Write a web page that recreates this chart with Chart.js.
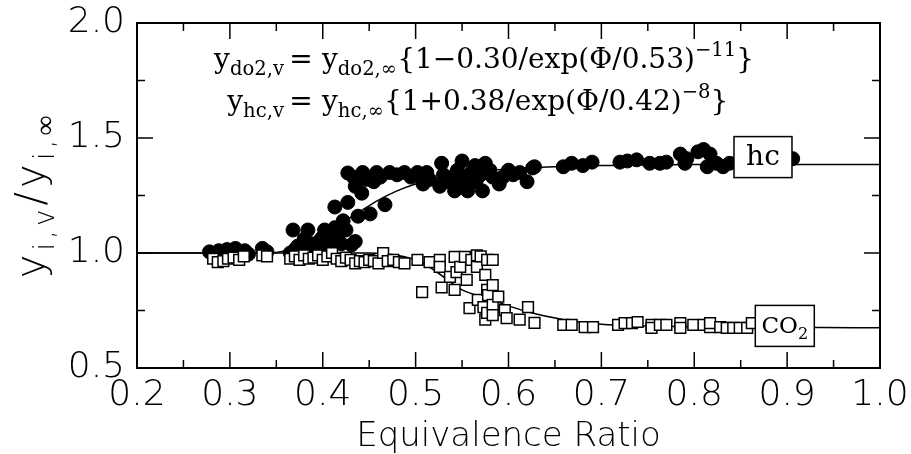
<!DOCTYPE html>
<html>
<head>
<meta charset="utf-8">
<script src="https://cdn.jsdelivr.net/npm/chart.js@4"></script>
<style>
  html, body { margin: 0; background: #fff; }
  #wrap { width: 911px; height: 454px; }
</style>
</head>
<body>
<div id="wrap"><canvas id="chart" width="911" height="454"></canvas></div>
<script>
// tick values
const xTicks = [0.2, 0.3, 0.4, 0.5, 0.6, 0.7, 0.8, 0.9, 1.0]
const yTicks = [0.5, 1.0, 1.5, 2.0]

// hc measurements (filled circles)
const hcPhi = [0.278, 0.283, 0.288, 0.292, 0.297, 0.302, 0.306, 0.311, 0.316, 0.32, 0.335, 0.34,
  0.365, 0.37, 0.368, 0.373, 0.378, 0.38, 0.384, 0.388, 0.392, 0.395, 0.396, 0.399, 0.402, 0.405, 0.408,
  0.41, 0.413, 0.413, 0.416, 0.42, 0.422, 0.425, 0.427, 0.427, 0.431, 0.433, 0.435, 0.435, 0.438, 0.442,
  0.443, 0.447, 0.451, 0.455, 0.458, 0.462, 0.467, 0.472, 0.48, 0.488, 0.495, 0.502, 0.508, 0.512, 0.515,
  0.526, 0.528, 0.53, 0.535, 0.54, 0.542, 0.545, 0.55, 0.55, 0.555, 0.556, 0.56, 0.564, 0.565, 0.57,
  0.572, 0.575, 0.58, 0.583, 0.59, 0.594, 0.6, 0.605, 0.612, 0.62, 0.626, 0.628, 0.659, 0.668, 0.68,
  0.69, 0.72, 0.728, 0.738, 0.752, 0.763, 0.77, 0.785, 0.79, 0.792, 0.804, 0.81, 0.817, 0.814, 0.824,
  0.831, 0.838, 0.906]
const hcRatio = [1.005, 0.995, 1.01, 0.99, 1.015, 1.005, 1.02, 1.0, 1.01, 0.995, 1.02, 1.005,
  1.0, 1.015, 1.10, 1.03, 1.005, 1.06, 1.10, 1.04, 1.02, 1.0, 1.05, 1.065, 1.10, 1.03, 1.08,
  1.04, 1.11, 1.20, 1.065, 1.04, 1.14, 1.10, 1.22, 1.348, 1.035, 1.33, 1.29, 1.05, 1.16, 1.26,
  1.35, 1.32, 1.17, 1.31, 1.35, 1.33, 1.21, 1.35, 1.34, 1.35, 1.33, 1.35, 1.30, 1.35, 1.32,
  1.29, 1.39, 1.34, 1.31, 1.33, 1.27, 1.36, 1.40, 1.30, 1.33, 1.27, 1.35, 1.38, 1.31, 1.34,
  1.27, 1.39, 1.36, 1.33, 1.30, 1.33, 1.36, 1.34, 1.35, 1.31, 1.37, 1.375, 1.375, 1.39, 1.38,
  1.395, 1.395, 1.40, 1.405, 1.39, 1.39, 1.395, 1.43, 1.39, 1.41, 1.44, 1.45, 1.43, 1.375, 1.39,
  1.375, 1.39, 1.41]

// CO2 measurements (open squares)
const co2Phi = [0.282, 0.287, 0.293, 0.298, 0.304, 0.31, 0.315, 0.335, 0.34, 0.365, 0.37, 0.375, 0.38,
  0.385, 0.39, 0.395, 0.40, 0.405, 0.41, 0.415, 0.42, 0.425, 0.43, 0.435, 0.44, 0.445, 0.45, 0.455,
  0.46, 0.465, 0.47, 0.476, 0.482, 0.488, 0.502, 0.507, 0.515, 0.526, 0.526, 0.528, 0.537, 0.542,
  0.542, 0.544, 0.548, 0.553, 0.555, 0.558, 0.56, 0.566, 0.566, 0.567, 0.57, 0.573, 0.575, 0.575,
  0.577, 0.577, 0.577, 0.578, 0.583, 0.583, 0.583, 0.583, 0.589, 0.596, 0.598, 0.612, 0.621, 0.628,
  0.659, 0.668, 0.682, 0.691, 0.718, 0.725, 0.733, 0.739, 0.754, 0.754, 0.763, 0.77, 0.785, 0.785,
  0.799, 0.81, 0.817, 0.817, 0.828, 0.835, 0.842, 0.849, 0.857, 0.862]
const co2Ratio = [0.975, 0.96, 0.965, 0.975, 0.98, 0.97, 0.985, 0.99, 0.985, 0.975, 0.985, 0.97, 0.99,
  0.975, 0.98, 0.99, 0.97, 0.985, 1.0, 0.975, 0.965, 0.98, 0.97, 0.955, 0.965, 0.96, 0.97, 0.965,
  0.955, 1.0, 0.965, 0.97, 0.96, 0.955, 0.97, 0.83, 0.96, 0.97, 0.94, 0.85, 0.896, 0.983,
  0.84, 0.917, 0.94, 0.983, 0.883, 0.76, 0.97, 0.99, 0.94, 0.796, 0.985, 0.765, 0.905, 0.71,
  0.97, 0.84, 0.74, 0.817, 0.97, 0.86, 0.774, 0.73, 0.81, 0.752, 0.717, 0.71, 0.765, 0.696,
  0.687, 0.687, 0.678, 0.678, 0.687, 0.695, 0.695, 0.70, 0.687, 0.674, 0.687, 0.687, 0.695, 0.674,
  0.687, 0.687, 0.678, 0.695, 0.678, 0.674, 0.674, 0.674, 0.674, 0.695]

// fitted curves
const hcFitPhi = [0.2, 0.34, 0.36, 0.38, 0.40, 0.42, 0.44, 0.46, 0.48, 0.50, 0.53, 0.56, 0.60, 0.65, 0.70, 0.80, 0.90, 1.0]
const hcFitRatio = [1.0, 1.0, 1.01, 1.04, 1.08, 1.13, 1.18, 1.23, 1.27, 1.30, 1.33, 1.35, 1.365, 1.375, 1.38, 1.385, 1.385, 1.385]
const co2FitPhi = [0.2, 0.45, 0.50, 0.52, 0.55, 0.58, 0.60, 0.62, 0.66, 0.70, 0.75, 0.80, 0.90, 1.0]
const co2FitRatio = [1.0, 1.0, 0.97, 0.925, 0.84, 0.80, 0.77, 0.745, 0.71, 0.69, 0.683, 0.68, 0.677, 0.675]

const pts = (xs, ys) => xs.map((x, i) => ({ x: x, y: ys[i] }))

const sans = 'DejaVu Sans'
const serif = 'DejaVu Serif'

// draw text made of runs: [text, 'n' | 'sub' | 'sup']
function richWidth(ctx, runs, family, size, weight) {
  let w = 0
  runs.forEach(r => {
    const s = r[1] === 'n' ? size : size * 0.7
    ctx.font = (weight || '400') + ' ' + s + 'px "' + family + '"'
    w += ctx.measureText(r[0]).width
  })
  return w
}
function drawRich(ctx, runs, x, y, family, size, weight) {
  ctx.textAlign = 'left'
  ctx.textBaseline = 'alphabetic'
  runs.forEach(r => {
    let s = size, dy = 0
    if (r[1] === 'sub') { s = size * 0.7; dy = size * 0.25 }
    if (r[1] === 'sup') { s = size * 0.7; dy = -size * 0.42 }
    ctx.font = (weight || '400') + ' ' + s + 'px "' + family + '"'
    ctx.fillText(r[0], x, y + dy)
    x += ctx.measureText(r[0]).width
  })
  return x
}

const decor = {
  id: 'decor',
  afterDatasetsDraw(chart) {
    const ctx = chart.ctx
    const a = chart.chartArea
    const xs = chart.scales.x, ys = chart.scales.y
    ctx.save()
    ctx.fillStyle = '#000'
    ctx.strokeStyle = '#000'

    // frame
    ctx.lineWidth = 2
    ctx.strokeRect(a.left, a.top, a.right - a.left, a.bottom - a.top)

    // inward ticks
    ctx.lineWidth = 1.5
    ctx.beginPath()
    for (let i = 1; i < 16; i++) {
      const v = 0.2 + i * 0.05
      const px = xs.getPixelForValue(v)
      const len = i % 2 === 0 ? 16 : 8
      ctx.moveTo(px, a.bottom); ctx.lineTo(px, a.bottom - len)
      ctx.moveTo(px, a.top); ctx.lineTo(px, a.top + len)
    }
    for (let i = 1; i < 6; i++) {
      const v = 0.5 + i * 0.25
      const py = ys.getPixelForValue(v)
      const len = i % 2 === 0 ? 16 : 8
      ctx.moveTo(a.left, py); ctx.lineTo(a.left + len, py)
      ctx.moveTo(a.right, py); ctx.lineTo(a.right - len, py)
    }
    ctx.stroke()

    // equations
    const eqSize = 28
    const eqs = [
      { y: 68, left: [['y', 'n'], ['do2,v', 'sub']],
        right: [['y', 'n'], ['do2,\u221e', 'sub'], ['{1\u22120.30/exp(\u03a6/0.53)', 'n'], ['\u221211', 'sup'], ['}', 'n']] },
      { y: 110, left: [['y', 'n'], ['hc,v', 'sub']],
        right: [['y', 'n'], ['hc,\u221e', 'sub'], ['{1+0.38/exp(\u03a6/0.42)', 'n'], ['\u22128', 'sup'], ['}', 'n']] }
    ]
    eqs.forEach(e => {
      const lw = richWidth(ctx, e.left, serif, eqSize)
      drawRich(ctx, e.left, 284 - lw, e.y, serif, eqSize)
      ctx.font = eqSize + 'px "' + serif + '"'
      ctx.textAlign = 'center'
      ctx.fillText('=', 301, e.y)
      drawRich(ctx, e.right, 322, e.y, serif, eqSize)
    })

    // curve labels
    const boxes = [
      { x: 0.874, y: 1.417, w: 58, h: 41, runs: [['hc', 'n']], size: 28 },
      { x: 0.8975, y: 0.683, w: 59, h: 41, runs: [['CO', 'n'], ['2', 'sub']], size: 23 }
    ]
    boxes.forEach(b => {
      const cx = xs.getPixelForValue(b.x), cy = ys.getPixelForValue(b.y)
      ctx.fillStyle = '#fff'
      ctx.fillRect(cx - b.w / 2, cy - b.h / 2, b.w, b.h)
      ctx.lineWidth = 1.5
      ctx.strokeRect(cx - b.w / 2, cy - b.h / 2, b.w, b.h)
      ctx.fillStyle = '#000'
      const tw = richWidth(ctx, b.runs, serif, b.size)
      drawRich(ctx, b.runs, cx - tw / 2, cy + b.size * 0.3, serif, b.size)
    })

    // y axis title, rotated
    const yt = [['y', 'n'], ['i,v', 'sub'], ['/', 'n'], ['y', 'n'], ['i,\u221e', 'sub']]
    ctx.translate(44, 195)
    ctx.rotate(-Math.PI / 2)
    ctx.letterSpacing = '4px'
    const tw = richWidth(ctx, yt, sans, 40, '200')
    drawRich(ctx, yt, -tw / 2, 0, sans, 40, '200')
    ctx.restore()
  }
}

const tickFont = { family: sans, size: 36, weight: '200' }

new Chart(document.getElementById('chart'), {
  type: 'scatter',
  data: {
    datasets: [
      {
        label: 'CO2',
        data: pts(co2Phi, co2Ratio),
        pointStyle: 'rect',
        pointRadius: 7.6,
        backgroundColor: '#fff',
        borderColor: '#000',
        borderWidth: 1.5,
        order: 1
      },
      {
        label: 'hc',
        data: pts(hcPhi, hcRatio),
        pointStyle: 'circle',
        pointRadius: 7,
        backgroundColor: '#000',
        borderColor: '#000',
        borderWidth: 1,
        order: 2
      },
      {
        type: 'line',
        label: 'hc fit',
        data: pts(hcFitPhi, hcFitRatio),
        borderColor: '#000',
        borderWidth: 1.5,
        pointRadius: 0,
        cubicInterpolationMode: 'monotone',
        fill: false,
        order: 3
      },
      {
        type: 'line',
        label: 'CO2 fit',
        data: pts(co2FitPhi, co2FitRatio),
        borderColor: '#000',
        borderWidth: 1.5,
        pointRadius: 0,
        cubicInterpolationMode: 'monotone',
        fill: false,
        order: 3
      }
    ]
  },
  options: {
    responsive: false,
    animation: false,
    layout: { padding: { top: 23, right: 31, left: 0, bottom: 0 } },
    plugins: { legend: { display: false }, tooltip: { enabled: false } },
    scales: {
      x: {
        type: 'linear',
        min: 0.2,
        max: 1.0,
        afterBuildTicks: s => { s.ticks = xTicks.map(v => ({ value: v })) },
        afterFit: s => { s.height = 86; s.paddingLeft = 0; s.paddingRight = 0 },
        grid: { display: false, drawTicks: false },
        border: { display: false },
        ticks: { color: '#000', font: tickFont, padding: 6, maxRotation: 0, autoSkip: false,
          callback: v => v.toFixed(1) },
        title: { display: true, text: 'Equivalence Ratio', color: '#000',
          font: { family: sans, size: 34, weight: '200', lineHeight: 1.0 }, padding: 0 }
      },
      y: {
        type: 'linear',
        min: 0.5,
        max: 2.0,
        afterBuildTicks: s => { s.ticks = yTicks.map(v => ({ value: v })) },
        afterFit: s => { s.width = 137; s.paddingTop = 0; s.paddingBottom = 0 },
        grid: { display: false, drawTicks: false },
        border: { display: false },
        ticks: { color: '#000', font: tickFont, padding: 12, autoSkip: false,
          callback: v => v.toFixed(1) }
      }
    }
  },
  plugins: [decor]
})
</script>
</body>
</html>
